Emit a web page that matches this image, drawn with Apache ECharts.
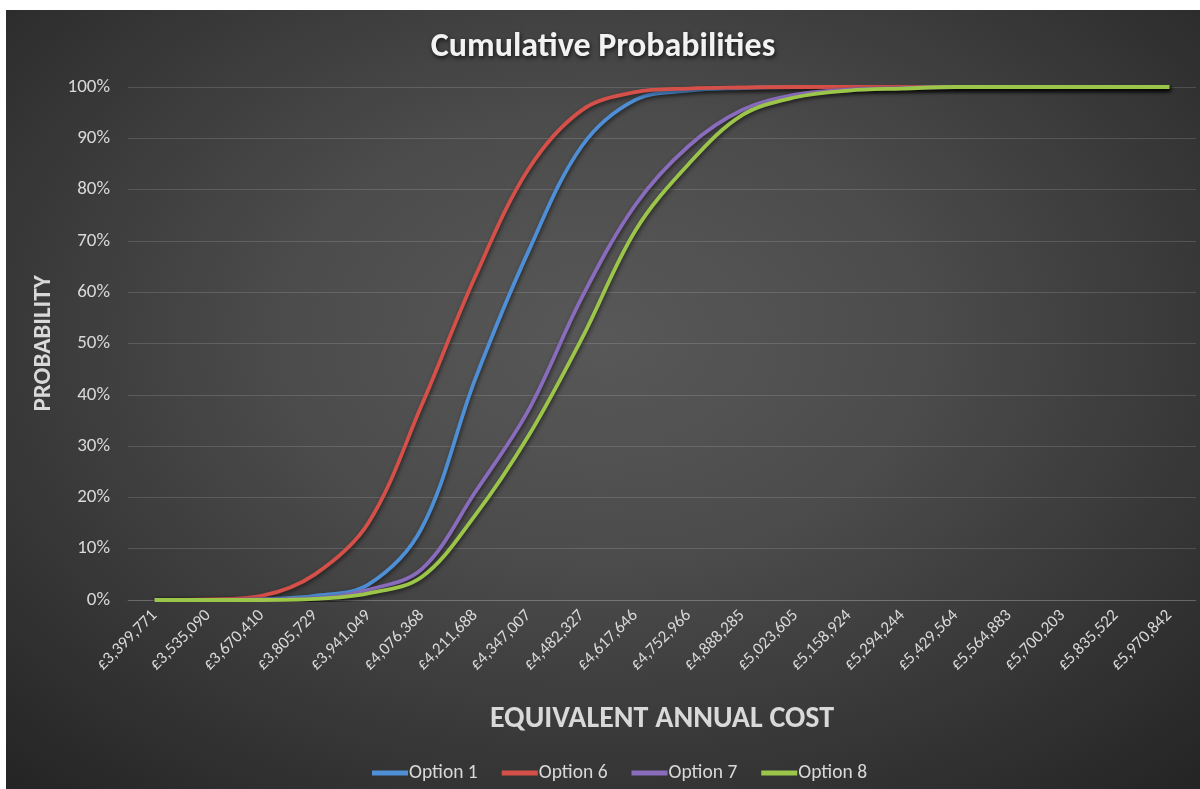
<!DOCTYPE html>
<html>
<head>
<meta charset="utf-8">
<script src="https://cdn.jsdelivr.net/npm/echarts@6/dist/echarts.min.js"></script>
<style>
  html, body { margin: 0; padding: 0; background: #ffffff; }
  #chart {
    position: absolute; left: 6px; top: 10px; width: 1194px; height: 779px;
    background: radial-gradient(ellipse 75% 80% at 50% 42%, #585858 0%, #4c4c4c 35%, #363636 70%, #232323 100%);
  }
</style>
</head>
<body>
<div id="chart"></div>
<script>
// Cost bands (category axis labels)
const costLabels = [
  '£3,399,771', '£3,535,090', '£3,670,410', '£3,805,729', '£3,941,049',
  '£4,076,368', '£4,211,688', '£4,347,007', '£4,482,327', '£4,617,646',
  '£4,752,966', '£4,888,285', '£5,023,605', '£5,158,924', '£5,294,244',
  '£5,429,564', '£5,564,883', '£5,700,203', '£5,835,522', '£5,970,842'
];

// Cumulative probability (%) at each cost band
const option1 = [0, 0, 0.2, 0.8, 3, 14, 43, 68, 88.5, 97.5, 99.3, 99.8, 100, 100, 100, 100, 100, 100, 100, 100];
const option6 = [0, 0.1, 0.8, 5, 15, 38, 63, 84, 95.5, 99, 99.7, 99.9, 100, 100, 100, 100, 100, 100, 100, 100];
const option7 = [0, 0, 0.1, 0.3, 2, 6, 21, 37, 59, 77, 88.5, 95.5, 98.5, 99.5, 99.8, 100, 100, 100, 100, 100];
const option8 = [0, 0, 0, 0.2, 1.3, 4.5, 16.5, 32, 51, 72, 85, 94.5, 98, 99.3, 99.7, 100, 100, 100, 100, 100];

const seriesNames = ['Option 1', 'Option 6', 'Option 7', 'Option 8'];
const seriesData = [option1, option6, option7, option8];
const seriesColors = ['#4e8fd6', '#d6504a', '#8a6cbd', '#9bc64a'];

const FONT = 'Carlito, Lato, "Open Sans", sans-serif';
const TEXT = '#d9d9d9';

const chart = echarts.init(document.getElementById('chart'), null, { renderer: 'canvas' });

chart.setOption({
  backgroundColor: 'transparent',
  textStyle: { fontFamily: FONT },
  title: {
    text: 'Cumulative Probabilities',
    left: 'center',
    top: 15,
    textStyle: {
      color: '#f2f2f2', fontSize: 34, fontWeight: 'bold', fontFamily: FONT,
      textShadowColor: 'rgba(0,0,0,0.7)', textShadowBlur: 4, textShadowOffsetX: 1, textShadowOffsetY: 2
    }
  },
  legend: {
    bottom: 1,
    left: 361,
    itemWidth: 36,
    itemHeight: 5,
    itemGap: 24,
    icon: 'rect',
    textStyle: { color: TEXT, fontSize: 19.5, fontFamily: FONT, padding: [0, 0, 0, -4] },
    data: seriesNames
  },
  grid: { left: 122, right: 4, top: 77, bottom: 189, containLabel: false },
  xAxis: {
    type: 'category',
    data: costLabels,
    boundaryGap: true,
    name: 'EQUIVALENT ANNUAL COST',
    nameLocation: 'middle',
    nameGap: 104,
    nameTextStyle: { color: TEXT, fontSize: 30, fontWeight: 'bold', fontFamily: FONT },
    axisLine: { show: true, lineStyle: { color: 'rgba(255,255,255,0.14)' } },
    axisTick: { show: false },
    axisLabel: { color: TEXT, fontSize: 17, rotate: 45, interval: 0, margin: 13, fontFamily: FONT }
  },
  yAxis: {
    type: 'value',
    min: 0, max: 100, interval: 10,
    name: 'PROBABILITY',
    nameLocation: 'middle',
    nameGap: 66,
    nameRotate: 90,
    nameTextStyle: { color: TEXT, fontSize: 25, fontWeight: 'bold', fontFamily: FONT },
    axisLine: { show: false },
    axisTick: { show: false },
    axisLabel: { color: TEXT, fontSize: 19, margin: 18, formatter: '{value}%', fontFamily: FONT },
    splitLine: { lineStyle: { color: 'rgba(255,255,255,0.14)', width: 1 } }
  },
  series: seriesData.map((d, i) => ({
    name: seriesNames[i],
    type: 'line',
    data: d,
    smooth: 0.35,
    symbol: 'none',
    color: seriesColors[i],
    lineStyle: {
      width: 3.8, color: seriesColors[i],
      shadowColor: 'rgba(0,0,0,0.55)', shadowBlur: 4, shadowOffsetX: 1, shadowOffsetY: 2
    },
    z: 2 + i
  })),
  animation: false
});
</script>
</body>
</html>
